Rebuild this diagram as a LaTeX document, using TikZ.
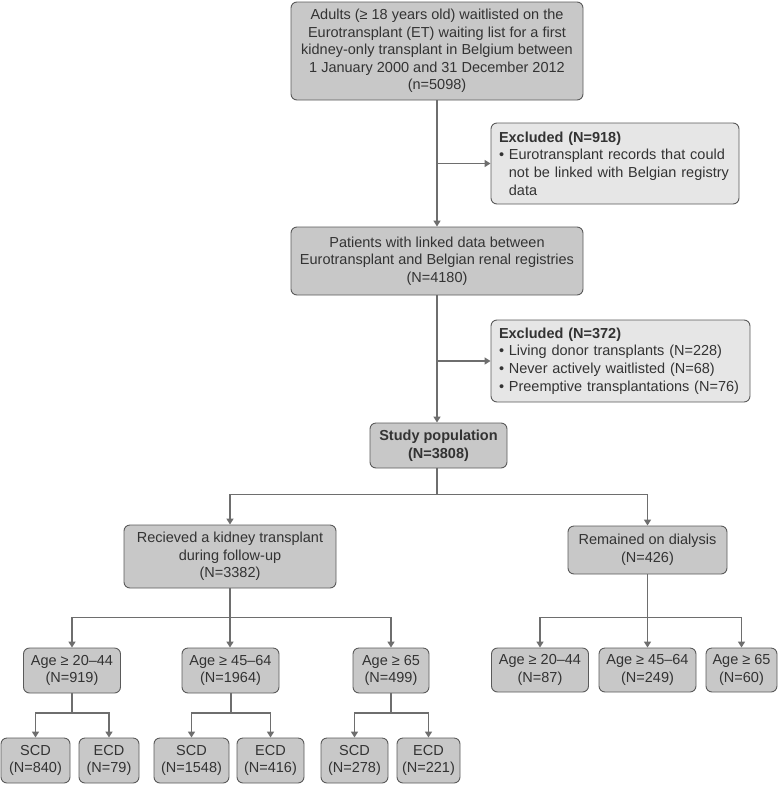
\documentclass[tikz,border=0pt]{standalone}
\usepackage{fontspec}
\setmainfont{Liberation Sans}
\usetikzlibrary{arrows.meta}
\definecolor{boxfill}{HTML}{C8C8C8}
\definecolor{exfill}{HTML}{E6E6E6}
\definecolor{edge}{HTML}{5A5A5A}
\definecolor{linec}{HTML}{6E6E6E}
\definecolor{txt}{HTML}{333333}
\begin{document}
\begin{tikzpicture}[x=1pt,y=-1pt,
  bx/.style={draw=edge, line width=0.9pt, fill=boxfill, rounded corners=6pt, inner sep=0pt,
    align=center, text=txt, font=\fontsize{14.5}{17.6}\selectfont},
  ex/.style={bx, fill=exfill, align=left},
  arr/.style={draw=linec, line width=1.5pt, -{Triangle[width=7pt,length=6pt]}},
  ln/.style={draw=linec, line width=1.5pt}]
\useasboundingbox (0,0) rectangle (778,785);
\node[bx, minimum width=292pt, minimum height=98pt] (top) at (437,51)
  {Adults (≥ 18 years old) waitlisted on the\\Eurotransplant (ET) waiting list for a first\\kidney-only transplant in Belgium between\\1 January 2000 and 31 December 2012\\(n=5098)};
\node[ex, minimum width=248pt, minimum height=81pt, text width=232pt] (ex1) at (615,163.5)
  {\textbf{Excluded (N=918)}\\• Eurotransplant records that could\\\hphantom{• }not be linked with Belgian registry\\\hphantom{• }data};
\node[bx, minimum width=292pt, minimum height=68pt] (pat) at (437,261)
  {Patients with linked data between\\Eurotransplant and Belgian renal registries\\(N=4180)};
\node[ex, minimum width=259pt, minimum height=82pt, text width=243pt] (ex2) at (620.5,361)
  {\textbf{Excluded (N=372)}\\• Living donor transplants (N=228)\\• Never actively waitlisted (N=68)\\• Preemptive transplantations (N=76)};
\node[bx, minimum width=137pt, minimum height=45pt, font=\bfseries\fontsize{14.5}{17.6}\selectfont] (stu) at (438.5,445.5)
  {Study population\\(N=3808)};
\node[bx, minimum width=212pt, minimum height=63pt] (rec) at (230,556.5)
  {Recieved a kidney transplant\\during follow-up\\(N=3382)};
\node[bx, minimum width=159pt, minimum height=48pt] (rem) at (647.5,550)
  {Remained on dialysis\\(N=426)};
% age boxes transplanted
\node[bx, minimum width=97pt, minimum height=45pt] (a1) at (72,670.5) {Age ≥ 20–44\\(N=919)};
\node[bx, minimum width=97pt, minimum height=45pt] (a2) at (230.5,670.5) {Age ≥ 45–64\\(N=1964)};
\node[bx, minimum width=76pt, minimum height=45pt] (a3) at (391,670.5) {Age ≥ 65\\(N=499)};
% age boxes dialysis
\node[bx, minimum width=97pt, minimum height=44pt] (r1) at (540,670) {Age ≥ 20–44\\(N=87)};
\node[bx, minimum width=97pt, minimum height=44pt] (r2) at (647.5,670) {Age ≥ 45–64\\(N=249)};
\node[bx, minimum width=71pt, minimum height=44pt] (r3) at (741.5,670) {Age ≥ 65\\(N=60)};
% SCD / ECD
\node[bx, minimum width=69pt, minimum height=45pt] (s1) at (35.5,760.5) {SCD\\(N=840)};
\node[bx, minimum width=60pt, minimum height=45pt] (e1) at (109,760.5) {ECD\\(N=79)};
\node[bx, minimum width=75pt, minimum height=45pt] (s2) at (191.5,760.5) {SCD\\(N=1548)};
\node[bx, minimum width=67pt, minimum height=45pt] (e2) at (270.5,760.5) {ECD\\(N=416)};
\node[bx, minimum width=67pt, minimum height=45pt] (s3) at (354.5,760.5) {SCD\\(N=278)};
\node[bx, minimum width=63pt, minimum height=45pt] (e3) at (428.5,760.5) {ECD\\(N=221)};
% connectors
\draw[arr] (top.south) -- (pat.north);
\draw[arr] (top.south |- ex1.west) -- (ex1.west);
\draw[arr] (pat.south) -- (pat.south |- stu.north);
\draw[arr] (pat.south |- ex2.west) -- (ex2.west);
\coordinate (j0) at (437,494.5);
\draw[ln] (stu.south -| j0) -- (j0);
\draw[arr] (j0) -| (rec.north);
\draw[arr] (j0) -| (rem.north);
\coordinate (j1) at (230,617.5);
\draw[ln] (rec.south) -- (j1);
\draw[arr] (j1) -| (a1.north);
\draw[arr] (j1) -- (a2.north -| j1);
\draw[arr] (j1) -| (a3.north);
\coordinate (j2) at (647.5,617.5);
\draw[ln] (rem.south) -- (j2);
\draw[arr] (j2) -| (r1.north);
\draw[arr] (j2) -- (r2.north);
\draw[arr] (j2) -| (r3.north);
\coordinate (k1) at (72,713);
\draw[ln] (a1.south) -- (k1);
\draw[arr] (k1) -| (s1.north);
\draw[arr] (k1) -| (e1.north);
\coordinate (k2) at (231,713);
\draw[ln] (a2.south -| k2) -- (k2);
\draw[arr] (k2) -| (s2.north);
\draw[arr] (k2) -| (e2.north);
\coordinate (k3) at (391,713);
\draw[ln] (a3.south) -- (k3);
\draw[arr] (k3) -| (s3.north);
\draw[arr] (k3) -| (e3.north);
\end{tikzpicture}
\end{document}
